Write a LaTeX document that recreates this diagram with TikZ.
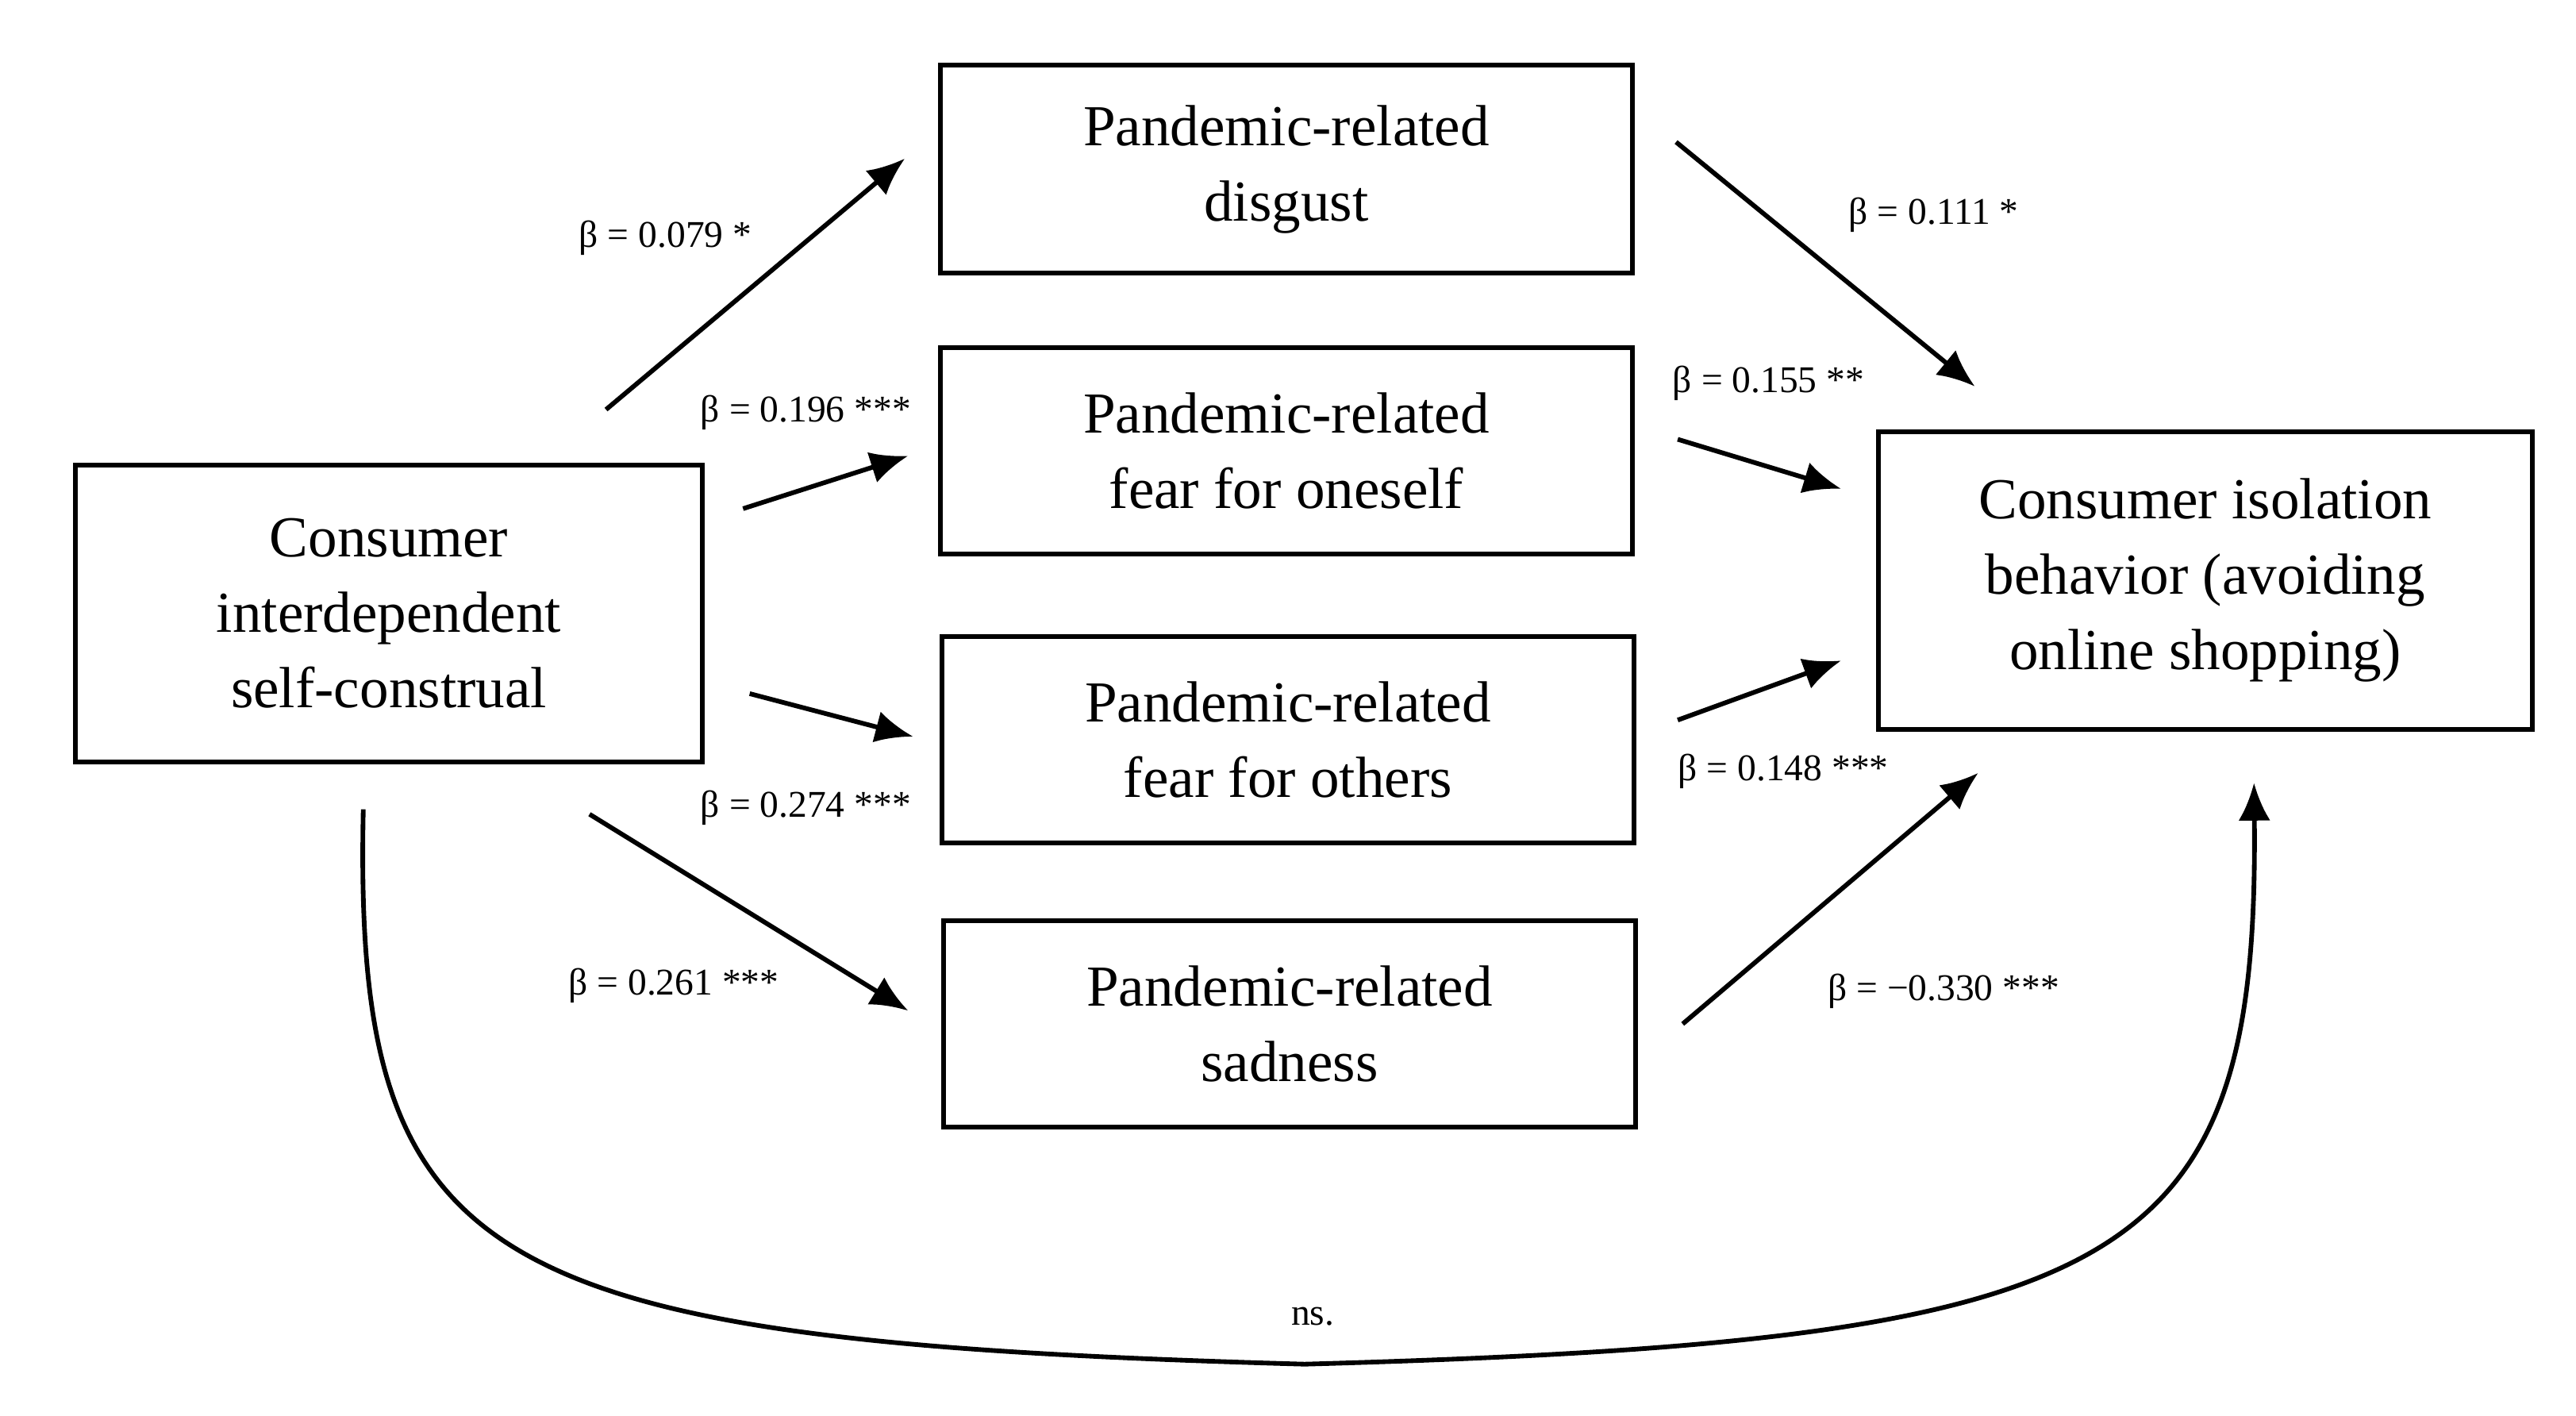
\documentclass[tikz,border=0pt]{standalone}
\usepackage{fontspec}
\setmainfont{Liberation Serif}
\usetikzlibrary{arrows.meta}
\begin{document}
\begin{tikzpicture}[x=0.02cm,y=-0.02cm,
  box/.style={draw,line width=1.6pt,inner sep=0pt,outer sep=0pt,align=center,font=\fontsize{20}{26}\selectfont},
  arr/.style={line width=1.6pt,-{Latex[length=13pt,width=11pt]}},
  lab/.style={font=\fontsize{13}{15}\selectfont}]
\useasboundingbox (0,0) rectangle (1560,857);
\node[box,minimum width=7.6cm,minimum height=3.6cm] (c) at (235.5,371.5) {Consumer\\interdependent\\self-construal};
\node[box,minimum width=8.38cm,minimum height=2.52cm] (d) at (779,102.5) {Pandemic-related\\disgust};
\node[box,minimum width=8.38cm,minimum height=2.5cm] (fo) at (779,273) {Pandemic-related\\fear for oneself};
\node[box,minimum width=8.38cm,minimum height=2.5cm] (ft) at (780,448) {Pandemic-related\\fear for others};
\node[box,minimum width=8.38cm,minimum height=2.5cm] (s) at (781,620) {Pandemic-related\\sadness};
\node[box,minimum width=7.92cm,minimum height=3.6cm] (r) at (1335.5,351.5) {Consumer isolation\\behavior (avoiding\\online shopping)};
\coordinate (a1) at (367,248); \coordinate (b1) at (548,96);
\coordinate (a2) at (450,308); \coordinate (b2) at (550,276);
\coordinate (a3) at (454,420); \coordinate (b3) at (553,446);
\coordinate (a4) at (357,493); \coordinate (b4) at (550,612);
\coordinate (a5) at (1015,86); \coordinate (b5) at (1196,234);
\coordinate (a6) at (1016,266); \coordinate (b6) at (1115,296);
\coordinate (a7) at (1016,436); \coordinate (b7) at (1115,400);
\coordinate (a8) at (1019,620); \coordinate (b8) at (1198,468);
\coordinate (cs) at (220,490); \coordinate (cm) at (790,826); \coordinate (ce) at (1365,474);
\foreach \i in {1,...,8} {\draw[arr] (a\i) -- (b\i);}
\draw[arr] (cs) .. controls (214,770) and (290,812) .. (cm) .. controls (1290,812) and (1368,770) .. (ce);
\node[lab] (l1) at (403,144) {β = 0.079 *};
\node[lab] (l2) at (488,250) {β = 0.196 ***};
\node[lab] (l3) at (488,489) {β = 0.274 ***};
\node[lab] (l4) at (408,597) {β = 0.261 ***};
\node[lab] (l5) at (1171,130) {β = 0.111 *};
\node[lab] (l6) at (1071,232) {β = 0.155 **};
\node[lab] (l7) at (1080,467) {β = 0.148 ***};
\node[lab] (l8) at (1177,600) {β = −0.330 ***};
\node[lab] (l9) at (795,797) {ns.};
\end{tikzpicture}
\end{document}
